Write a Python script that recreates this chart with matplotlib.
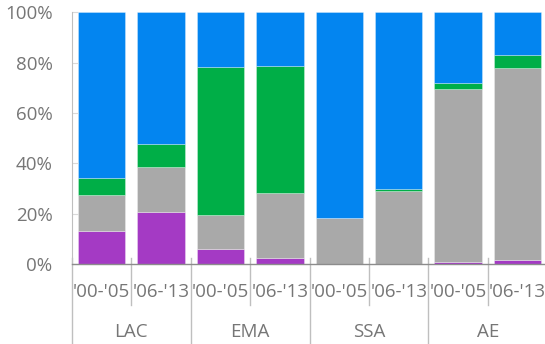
import matplotlib
matplotlib.use("Agg")
import matplotlib.pyplot as plt
from matplotlib.ticker import FuncFormatter

plt.rcParams['font.family'] = ['Open Sans', 'DejaVu Sans']

groups = ["LAC", "EMA", "SSA", "AE"]
periods = ["'00-'05", "'06-'13"]

purple = [13.1, 20.8, 6.0, 2.5, 0.0, 0.0, 0.9, 1.5]
gray = [14.5, 17.7, 13.4, 25.7, 18.1, 29.0, 68.8, 76.2]
green = [6.6, 9.0, 59.0, 50.5, 0.0, 0.6, 2.1, 5.2]
blue = [65.8, 52.5, 21.6, 21.3, 81.9, 70.4, 28.2, 17.1]

colors = ["#A43AC4", "#A9A9A9", "#00AE47", "#0385F0"]
text_col = "#767676"
fs = 13.5

W, H = 545, 344
fig = plt.figure(figsize=(W / 100, H / 100), dpi=100)
ax = fig.add_axes([72 / W, (H - 264) / H, (W - 72) / W, (264 - 12.3) / H])

x = list(range(len(purple)))
bottom = [0.0] * len(x)
for vals, c in zip([purple, gray, green, blue], colors):
    ax.bar(x, vals, width=0.8, bottom=bottom, color=c,
           edgecolor=(1, 1, 1, 0.35), linewidth=0.6)
    bottom = [b + v for b, v in zip(bottom, vals)]

ax.set_xlim(-0.5, -0.5 + (W - 72) / 59.4)
ax.set_ylim(0, 100)
ax.set_yticks([0, 20, 40, 60, 80, 100])
ax.yaxis.set_major_formatter(FuncFormatter(lambda v, p: f"{v:.0f}%"))
ax.tick_params(axis='y', direction='in', length=4, color="#D9D9D9",
               labelsize=fs, labelcolor=text_col, pad=14)
ax.set_xticks([])

for s in ["top", "right"]:
    ax.spines[s].set_visible(False)
ax.spines["left"].set_color("#BFBFBF")
ax.spines["bottom"].set_color("#8C8C8C")
ax.spines["bottom"].set_linewidth(1.0)

ah = 264 - 12.3
def ay(px):
    return (264 - px) / ah

tr = ax.get_xaxis_transform()
# period labels
for i in x:
    ax.text(i, ay(292), periods[i % 2], transform=tr, ha='center', va='center',
            fontsize=fs, color=text_col)
# group labels
for g, name in enumerate(groups):
    ax.text(2 * g + 0.5, ay(332), name, transform=tr, ha='center', va='center',
            fontsize=fs, color=text_col)
# separators within groups
for g in range(len(groups)):
    ax.plot([2 * g + 0.5] * 2, [ay(258), ay(305)], transform=tr,
            color="#BFBFBF", lw=1.0, clip_on=False)
# separators between groups
for g in range(len(groups) + 1):
    ax.plot([2 * g - 0.5] * 2, [ay(258), ay(344)], transform=tr,
            color="#BFBFBF", lw=1.0, clip_on=False)

fig.savefig("out.png", dpi=100)
